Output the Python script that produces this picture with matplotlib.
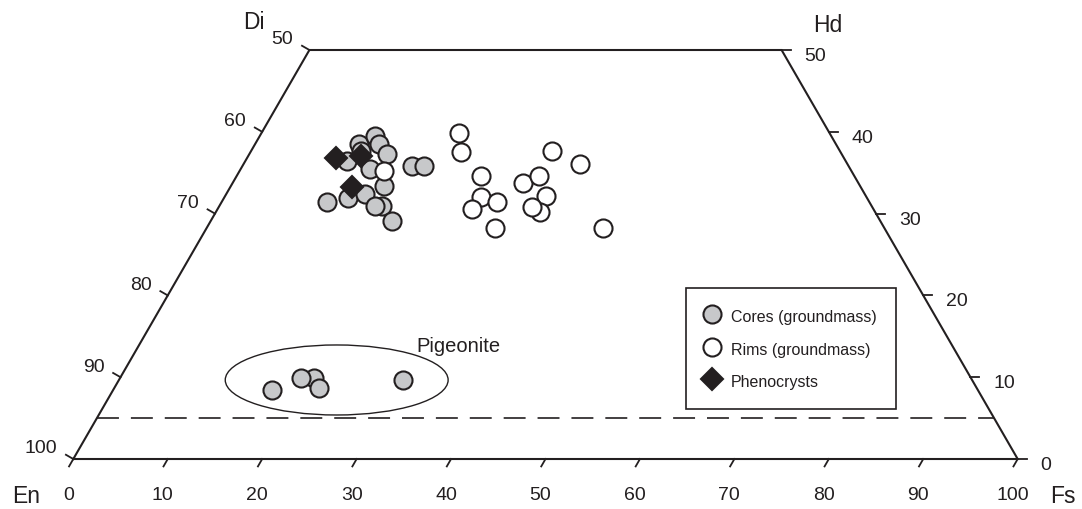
import numpy as np
import matplotlib
matplotlib.use('Agg')
import matplotlib.pyplot as plt
from matplotlib.patches import Ellipse

plt.rcParams['font.family'] = ['Liberation Sans', 'DejaVu Sans']
plt.rcParams['lines.scale_dashes'] = False

INK = '#231f20'
GREY = '#c7c8ca'

# compositions (Wo and Fs, mol %)
core_wo = [31.4, 31.9, 36.4, 38.5, 39.5, 38.5, 37.3, 35.4, 33.4, 32.4, 30.9, 30.9, 29.1, 35.8, 35.8, 37.7]
core_fs = [11.2, 13.1, 10.8, 11.0, 12.2, 13.1, 14.6, 13.7, 16.2, 14.7, 17.2, 16.5, 19.2, 18.0, 19.2, 11.6]

rim_wo = [35.2, 39.9, 37.5, 34.6, 32.0, 30.6, 31.4, 28.3, 37.7, 36.1, 33.7, 34.6, 32.2, 30.2, 30.8, 28.2]
rim_fs = [15.3, 20.9, 22.3, 25.9, 27.2, 26.9, 29.2, 30.5, 31.8, 35.6, 30.8, 32.0, 34.0, 34.3, 33.2, 42.0]

pheno_wo = [36.8, 37.0, 33.3]
pheno_fs = [9.4, 12.0, 12.9]

# pigeonite cores
pig_wo = [9.9, 9.9, 8.7, 8.4, 9.6]
pig_fs = [20.5, 19.2, 21.7, 16.8, 30.1]

ticks = [0, 10, 20, 30, 40, 50]          # Wo
fs_ticks = list(range(0, 101, 10))


def to_xy(wo, fs):
    wo = np.asarray(wo, float)
    fs = np.asarray(fs, float)
    return fs + wo / 2, wo


fig = plt.figure(figsize=(10.82, 5.10), dpi=100)
ax = fig.add_axes([0, 0, 1, 1])
ax.set_xlim(-7.762, 106.81)
ax.set_ylim(-6.112, 56.235)
ax.axis('off')


def shift(x, y, dx, dy):
    X, Y = ax.transData.transform((x, y))
    return ax.transData.inverted().transform((X + dx, Y + dy))


# quadrilateral En - Fs - Hd - Di
cx, cy = to_xy([0, 0, 50, 50, 0], [0, 100, 50, 0, 0])
ax.plot(cx, cy, color=INK, lw=1.5, solid_joinstyle='miter', zorder=2)

# ticks and labels
for w in ticks:
    # left side (Di-En)
    x, y = to_xy(w, 0)
    x1, y1 = shift(x, y, -7.4, 4.25)
    ax.plot([x, x1], [y, y1], color=INK, lw=1.3)
    ax.annotate(str(100 - w), (x, y), xytext=(-11.5, 4.7), textcoords='offset points',
                ha='right', va='baseline', fontsize=14, color=INK)
    # right side (Hd-Fs)
    x, y = to_xy(w, 100 - w)
    x1, y1 = shift(x, y, 9, 0)
    ax.plot([x, x1], [y, y1], color=INK, lw=1.3)
    ax.annotate(str(w), (x, y), xytext=(16.6, -7.2), textcoords='offset points',
                ha='left', va='baseline', fontsize=14, color=INK)

for f in fs_ticks:
    x, y = to_xy(0, f)
    x1, y1 = shift(x, y, -4.25, -7.4)
    ax.plot([x, x1], [y, y1], color=INK, lw=1.3)
    ax.annotate(str(f), (x, y), xytext=(-3.6, -28.8), textcoords='offset points',
                ha='center', va='baseline', fontsize=14, color=INK)

# end-member labels
ax.annotate('En', to_xy(0, 0), xytext=(-44.4, -31), textcoords='offset points',
            ha='left', va='baseline', fontsize=16.5, color=INK)
ax.annotate('Fs', to_xy(0, 100), xytext=(23, -31), textcoords='offset points',
            ha='left', va='baseline', fontsize=16.5, color=INK)
ax.annotate('Di', to_xy(50, 0), xytext=(-47.5, 15.6), textcoords='offset points',
            ha='left', va='baseline', fontsize=16.5, color=INK)
ax.annotate('Hd', to_xy(50, 50), xytext=(23, 13.5), textcoords='offset points',
            ha='left', va='baseline', fontsize=16.5, color=INK)

# 5 % Wo dashed line
dx, dy = to_xy([5, 5], [0, 95])
ax.plot(dx, dy, color=INK, lw=1.2, dashes=(15.8, 8.6))

# pigeonite field
ax.add_patch(Ellipse((27.89, 9.66), 23.6, 8.56, fill=False, ec=INK, lw=1.0))
ax.text(36.29, 13.24, 'Pigeonite', fontsize=14.5, color=INK, ha='left', va='baseline')

mk = dict(linestyle='none', markeredgecolor=INK, markeredgewidth=1.5)
px, py = to_xy(pig_wo, pig_fs)
ax.plot(px, py, marker='o', ms=13, markerfacecolor=GREY, zorder=3, **mk)

x, y = to_xy(core_wo, core_fs)
hc, = ax.plot(x, y, marker='o', ms=13, markerfacecolor=GREY, zorder=3,
              label='Cores (groundmass)', **mk)
x, y = to_xy(rim_wo, rim_fs)
hr, = ax.plot(x, y, marker='o', ms=13, markerfacecolor='white', zorder=4,
              label='Rims (groundmass)', **mk)
x, y = to_xy(pheno_wo, pheno_fs)
hp, = ax.plot(x, y, marker='D', ms=11.5, markerfacecolor=INK, zorder=5,
              label='Phenocrysts', **mk)

leg = ax.legend(handles=[hc, hr, hp], loc='upper left',
                bbox_to_anchor=(686 / 1082, 1 - 289 / 510), bbox_transform=fig.transFigure,
                frameon=True, fancybox=False, edgecolor=INK, framealpha=1,
                fontsize=11.5, labelcolor=INK, borderpad=1.2, handlelength=0.9,
                handleheight=1.3, handletextpad=0.7, labelspacing=0.95,
                borderaxespad=0, numpoints=1)
leg.get_frame().set_linewidth(1.2)

fig.savefig('out.png', dpi=100)
